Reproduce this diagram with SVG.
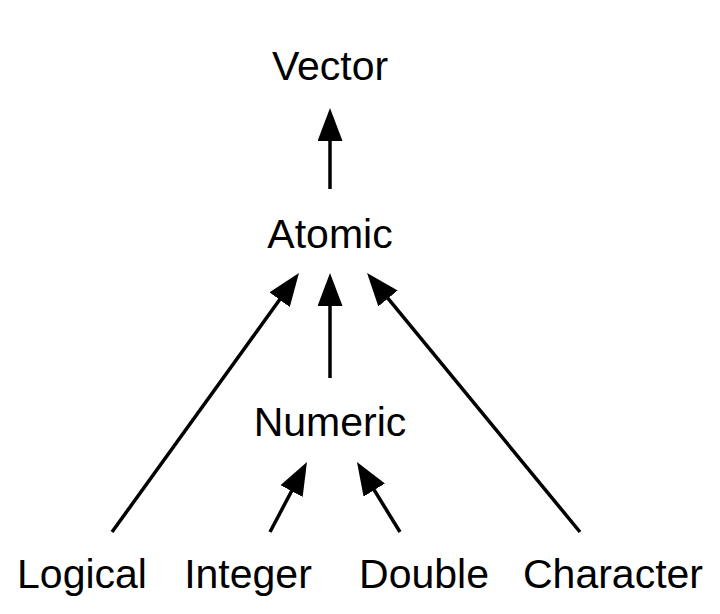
<svg xmlns="http://www.w3.org/2000/svg" width="720" height="614" viewBox="0 0 720 614">
  <style>
    .lbl { font-family: "Liberation Sans", Arial, Helvetica, sans-serif; font-size: 41px; fill: #000; text-anchor: middle; }
    .edge { stroke: #000; stroke-width: 3.5; fill: none; }
  </style>
  <defs>
    <marker id="ah" viewBox="0 0 33 25" refX="23" refY="12.5" markerWidth="33" markerHeight="25" markerUnits="userSpaceOnUse" orient="auto">
      <path d="M0,0 L33,12.5 L0,25 z" fill="#000"/>
    </marker>
  </defs>
  <rect width="720" height="614" fill="#fff"/>
  <g id="connectors">
    <line class="edge" x1="330" y1="189" x2="330" y2="118" marker-end="url(#ah)"/>
    <line class="edge" x1="330" y1="378" x2="330" y2="283" marker-end="url(#ah)"/>
    <line class="edge" x1="112" y1="532" x2="293.1" y2="281.1" marker-end="url(#ah)"/>
    <line class="edge" x1="580" y1="532" x2="373.4" y2="280.7" marker-end="url(#ah)"/>
    <line class="edge" x1="270" y1="532" x2="302.3" y2="470.8" marker-end="url(#ah)"/>
    <line class="edge" x1="400" y1="532" x2="362.2" y2="470.5" marker-end="url(#ah)"/>
  </g>
  <g id="vector"><text class="lbl" x="330" y="80">Vector</text></g>
  <g id="atomic"><text class="lbl" x="330" y="248">Atomic</text></g>
  <g id="numeric"><text class="lbl" x="330" y="436">Numeric</text></g>
  <g id="logical"><text class="lbl" x="82" y="588">Logical</text></g>
  <g id="integer"><text class="lbl" x="248" y="588">Integer</text></g>
  <g id="double"><text class="lbl" x="424" y="588">Double</text></g>
  <g id="character"><text class="lbl" x="613" y="588">Character</text></g>
</svg>
